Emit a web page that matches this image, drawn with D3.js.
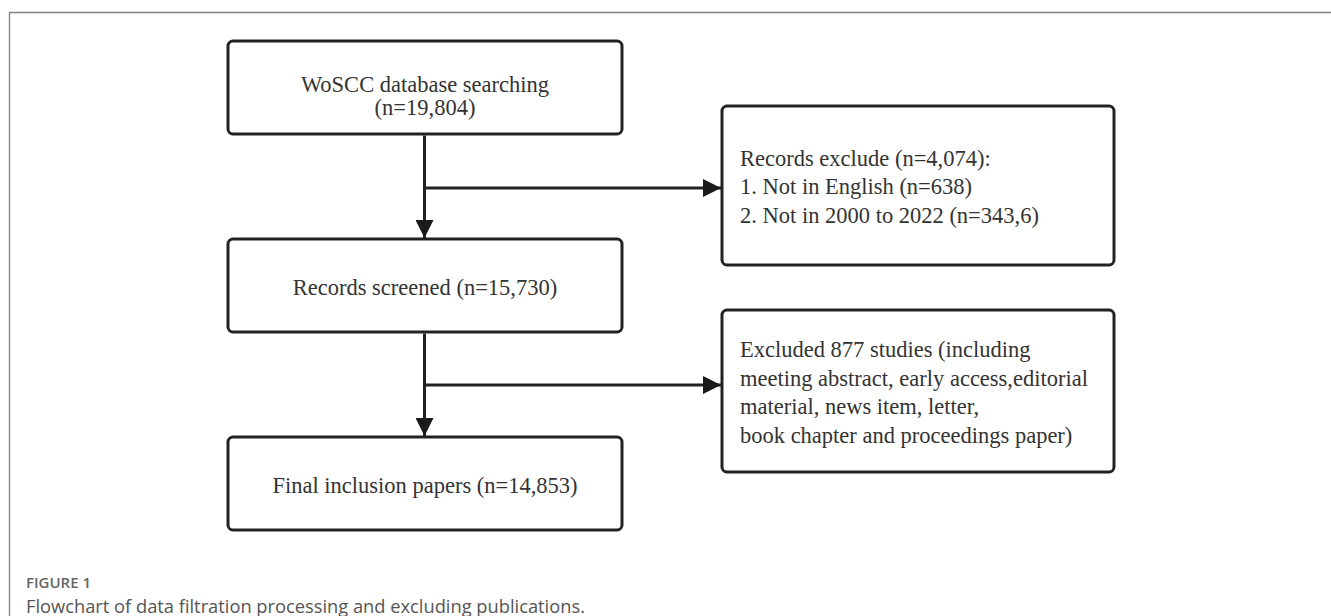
<!DOCTYPE html>
<html>
<head>
<meta charset="utf-8">
<script src="https://cdn.jsdelivr.net/npm/d3@7"></script>
<style>
  body { margin: 0; background: #fff; }
  svg { display: block; }
</style>
</head>
<body>
<div class="chart"></div>
<script>
var width = 1331;
var height = 616;

// flow steps (main column)
var stepLabels = [
  ['WoSCC database searching', '(n=19,804)'],
  ['Records screened (n=15,730)'],
  ['Final inclusion papers (n=14,853)']
];
var stepCounts = [19804, 15730, 14853];

// exclusions (side column)
var excludeLines = [
  ['Records exclude (n=4,074):', '1. Not in English (n=638)', '2. Not in 2000 to 2022 (n=343,6)'],
  ['Excluded  877 studies (including', 'meeting abstract, early access,editorial', 'material, news item, letter,', 'book chapter and proceedings paper)']
];
var excludeCounts = [4074, 877];

var captionTitle = 'FIGURE 1';
var captionText = 'Flowchart of data filtration processing and excluding publications.';

var svg = d3.select('.chart')
  .append('svg')
  .attr('width', width)
  .attr('height', height);

// frame (top + left rule)
svg.append('path')
  .attr('d', 'M9.5,' + height + 'V12.5H' + width)
  .attr('fill', 'none')
  .attr('stroke', '#808080')
  .attr('stroke-width', 1.3);

svg.append('defs').append('marker')
  .attr('id', 'arrow')
  .attr('viewBox', '0 0 10 10')
  .attr('refX', 10).attr('refY', 5)
  .attr('markerWidth', 8).attr('markerHeight', 6)
  .attr('markerUnits', 'strokeWidth')
  .attr('orient', 'auto')
  .append('path')
  .attr('d', 'M0,0L10,5L0,10Z')
  .attr('fill', '#1a1a1a');

var rowY = d3.scaleLinear().domain([0, 1]).range([41, 239]);
var mainX = 228, mainW = 394, mainH = 93;
var sideX = 722, sideW = 392;
var sideBox = [{ top: 106, h: 159 }, { top: 310, h: 162 }];
var lineH = 28.5;
var fs = 22.5;

var ink = '#222';
var font = '"Liberation Serif", "Times New Roman", serif';

// main boxes
var main = svg.selectAll('.step')
  .data(stepLabels)
  .enter().append('g')
  .attr('class', 'step')
  .attr('transform', function(d, i){ return 'translate(' + mainX + ',' + rowY(i) + ')'; });

main.append('rect')
  .attr('x', 0).attr('y', 0)
  .attr('width', mainW).attr('height', mainH)
  .attr('rx', 5)
  .attr('fill', '#fff')
  .attr('stroke', ink)
  .attr('stroke-width', 3);

main.each(function(lines){
  var g = d3.select(this);
  var y0 = lines.length > 1 ? 43 : mainH / 2 + 1.5;
  g.selectAll('text')
    .data(lines)
    .enter().append('text')
    .attr('x', mainW / 2)
    .attr('y', function(d, j){ return y0 + j * 23; })
    .attr('dy', '0.35em')
    .attr('text-anchor', 'middle')
    .attr('font-family', font)
    .attr('font-size', fs)
    .attr('fill', '#333')
    .text(function(d){ return d; });
});

// side boxes
var side = svg.selectAll('.excl')
  .data(excludeLines)
  .enter().append('g')
  .attr('class', 'excl')
  .attr('transform', function(d, i){ return 'translate(' + sideX + ',' + sideBox[i].top + ')'; });

side.append('rect')
  .attr('width', sideW)
  .attr('height', function(d, i){ return sideBox[i].h; })
  .attr('rx', 5)
  .attr('fill', '#fff')
  .attr('stroke', ink)
  .attr('stroke-width', 3);

side.each(function(lines, i){
  var g = d3.select(this);
  var y0 = sideBox[i].h / 2 - (lines.length - 1) * lineH / 2 + 1;
  g.selectAll('text')
    .data(lines)
    .enter().append('text')
    .attr('x', 18)
    .attr('y', function(d, j){ return y0 + j * lineH; })
    .attr('dy', '0.35em')
    .attr('font-family', font)
    .attr('font-size', fs)
    .attr('fill', '#333')
    .text(function(d){ return d; });
});

// connectors
var cx = mainX + mainW / 2 - 0.5;
var arrowY = [188, 385];
for (var i = 0; i < 2; i++) {
  svg.append('line')
    .attr('x1', cx).attr('x2', cx)
    .attr('y1', rowY(i) + mainH + 1.5)
    .attr('y2', rowY(i + 1) - 1)
    .attr('stroke', ink)
    .attr('stroke-width', 3)
    .attr('marker-end', 'url(#arrow)');
  svg.append('line')
    .attr('x1', cx).attr('x2', sideX - 1)
    .attr('y1', arrowY[i]).attr('y2', arrowY[i])
    .attr('stroke', ink)
    .attr('stroke-width', 3)
    .attr('marker-end', 'url(#arrow)');
}

// caption
svg.append('text')
  .attr('x', 26).attr('y', 587.5)
  .attr('font-family', '"Open Sans", sans-serif')
  .attr('font-size', 15)
  .attr('font-weight', 600)
  .attr('fill', '#666')
  .text(captionTitle);

svg.append('text')
  .attr('x', 26).attr('y', 613)
  .attr('font-family', '"Open Sans", sans-serif')
  .attr('font-size', 18.3)
  .attr('fill', '#555')
  .text(captionText);
</script>
</body>
</html>
